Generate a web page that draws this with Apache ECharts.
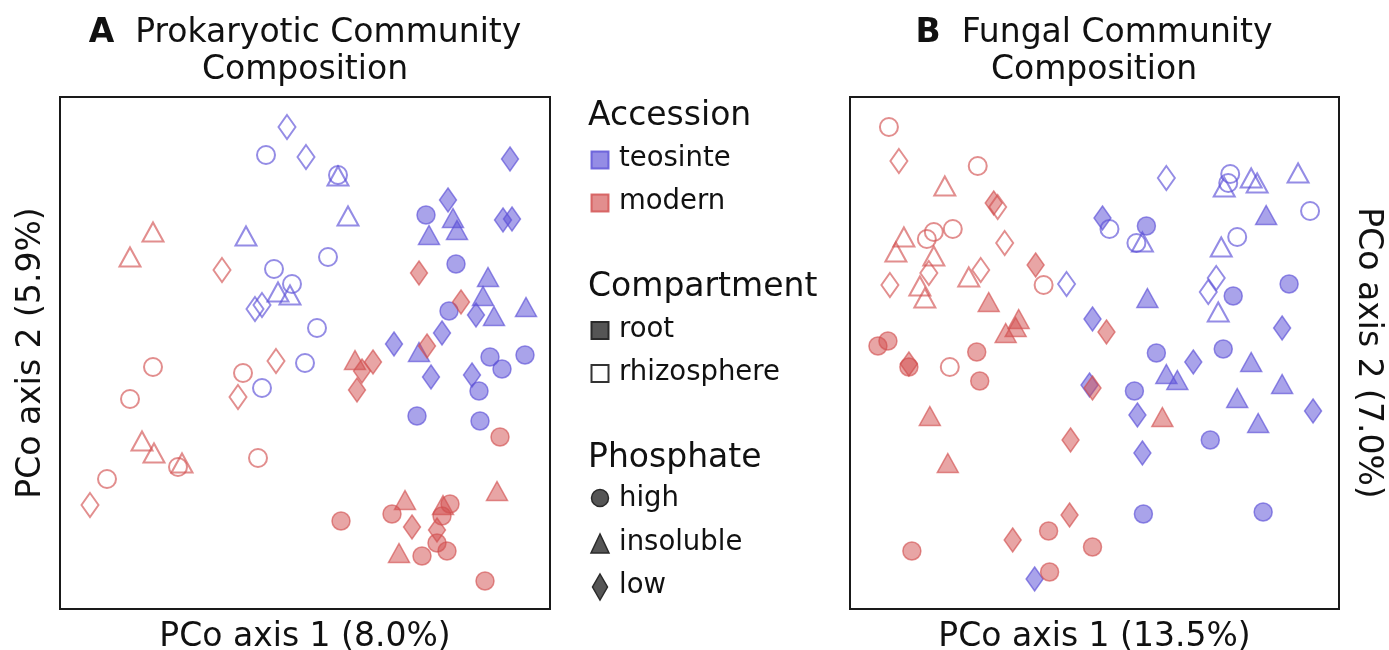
<!DOCTYPE html>
<html>
<head>
<meta charset="utf-8">
<script src="https://cdn.jsdelivr.net/npm/echarts@6/dist/echarts.min.js"></script>
<style>
html,body{margin:0;padding:0;background:#fff;}
#chart{width:1389px;height:650px;}
</style>
</head>
<body>
<div id="chart"></div>
<script>
// ---------- Panel A: Prokaryotic (arbitrary PCo units) ----------
const A_teo_rhizo_high = [[206,454],[278,434],[214,340],[232,325],[257,281],[268,352],[245,246],[202,221]];
const A_teo_rhizo_insol = [[186,373],[278,433],[288,393],[218,317],[230,314]];
const A_teo_rhizo_low = [[227,482],[246,452],[195,300],[202,304]];
const A_teo_root_high = [[366,394],[396,345],[389,298],[430,252],[442,240],[465,254],[419,218],[357,193],[420,188]];
const A_teo_root_insol = [[393,391],[369,374],[397,379],[428,332],[423,313],[434,293],[466,302],[359,257]];
const A_teo_root_low = [[450,450],[388,409],[443,389],[452,390],[416,294],[382,276],[334,265],[371,232],[412,234]];
const A_mod_rhizo_high = [[93,242],[70,210],[183,236],[118,142],[198,151],[47,130]];
const A_mod_rhizo_insol = [[93,377],[70,352],[82,168],[94,156],[122,146]];
const A_mod_rhizo_low = [[162,339],[216,248],[178,212],[30,104]];
const A_mod_root_high = [[440,172],[332,95],[281,88],[390,105],[382,93],[377,66],[387,58],[362,53],[425,28]];
const A_mod_root_insol = [[295,249],[437,118],[345,109],[383,104],[339,56]];
const A_mod_root_low = [[359,336],[401,307],[367,263],[313,247],[302,238],[297,219],[352,82],[377,79]];

// ---------- Panel B: Fungal ----------
const B_teo_rhizo_high = [[381,435],[379,426],[461,398],[260,380],[287,366],[388,372]];
const B_teo_rhizo_insol = [[375,422],[402,431],[408,426],[449,436],[293,367],[372,362],[369,297]];
const B_teo_rhizo_low = [[217,325],[317,431],[367,331],[359,317]];
const B_teo_root_high = [[297,383],[384,313],[440,325],[307,256],[374,260],[285,218],[361,169],[294,95],[414,97]];
const B_teo_root_insol = [[417,394],[298,311],[317,235],[328,229],[402,247],[433,225],[388,211],[409,186]];
const B_teo_root_low = [[253,391],[243,290],[433,281],[344,247],[240,224],[288,194],[464,198],[293,156],[185,30]];
const B_mod_rhizo_high = [[39,482],[128,443],[103,380],[84,377],[77,370],[194,324],[100,242]];
const B_mod_rhizo_insol = [[95,423],[54,372],[46,357],[84,353],[70,323],[75,311],[119,332]];
const B_mod_rhizo_low = [[49,448],[148,402],[155,366],[79,336],[40,324],[131,339]];
const B_mod_root_high = [[28,263],[38,268],[59,242],[127,257],[130,228],[62,58],[199,78],[200,37],[243,62]];
const B_mod_root_insol = [[139,307],[169,290],[166,282],[156,276],[80,193],[98,146],[313,192]];
const B_mod_root_low = [[144,406],[186,344],[59,245],[257,277],[243,221],[221,169],[220,94],[163,69]];

// ---------- Text ----------
const titleA = ['A', 'Prokaryotic Community', 'Composition'];
const titleB = ['B', 'Fungal Community', 'Composition'];
const xNameA = 'PCo axis 1 (8.0%)';
const yNameA = 'PCo axis 2 (5.9%)';
const xNameB = 'PCo axis 1 (13.5%)';
const yNameB = 'PCo axis 2 (7.0%)';
const legendAccession = ['teosinte', 'modern'];
const legendCompartment = ['root', 'rhizosphere'];
const legendPhosphate = ['high', 'insoluble', 'low'];

const FONT = '"DejaVu Sans", "Liberation Sans", sans-serif';
const COL = {
  teo: { fill: 'rgba(92,80,215,0.66)', line: 'rgba(92,80,215,0.82)' },
  mod: { fill: 'rgba(210,78,78,0.64)', line: 'rgba(210,78,78,0.80)' }
};
const SHAPE = {
  high: { symbol: 'circle', size: 18 },
  insol: { symbol: 'triangle', size: [21, 19] },
  low: { symbol: 'diamond', size: [17, 24] }
};

function mk(data, idx, acc, comp, ph) {
  const c = COL[acc];
  const filled = comp === 'root';
  return {
    type: 'scatter',
    xAxisIndex: idx, yAxisIndex: idx,
    data: data,
    symbol: SHAPE[ph].symbol,
    symbolSize: SHAPE[ph].size,
    silent: true,
    itemStyle: filled
      ? { color: c.fill, borderColor: c.line, borderWidth: 1.5 }
      : { color: 'rgba(255,255,255,0)', borderColor: c.line, borderWidth: 2 },
    emphasis: { disabled: true }
  };
}

const series = [
  mk(A_mod_rhizo_high, 0, 'mod', 'rhizo', 'high'),
  mk(A_mod_rhizo_insol, 0, 'mod', 'rhizo', 'insol'),
  mk(A_mod_rhizo_low, 0, 'mod', 'rhizo', 'low'),
  mk(A_teo_rhizo_high, 0, 'teo', 'rhizo', 'high'),
  mk(A_teo_rhizo_insol, 0, 'teo', 'rhizo', 'insol'),
  mk(A_teo_rhizo_low, 0, 'teo', 'rhizo', 'low'),
  mk(A_teo_root_high, 0, 'teo', 'root', 'high'),
  mk(A_teo_root_insol, 0, 'teo', 'root', 'insol'),
  mk(A_teo_root_low, 0, 'teo', 'root', 'low'),
  mk(A_mod_root_high, 0, 'mod', 'root', 'high'),
  mk(A_mod_root_insol, 0, 'mod', 'root', 'insol'),
  mk(A_mod_root_low, 0, 'mod', 'root', 'low'),
  mk(B_mod_rhizo_high, 1, 'mod', 'rhizo', 'high'),
  mk(B_mod_rhizo_insol, 1, 'mod', 'rhizo', 'insol'),
  mk(B_mod_rhizo_low, 1, 'mod', 'rhizo', 'low'),
  mk(B_teo_rhizo_high, 1, 'teo', 'rhizo', 'high'),
  mk(B_teo_rhizo_insol, 1, 'teo', 'rhizo', 'insol'),
  mk(B_teo_rhizo_low, 1, 'teo', 'rhizo', 'low'),
  mk(B_teo_root_high, 1, 'teo', 'root', 'high'),
  mk(B_teo_root_insol, 1, 'teo', 'root', 'insol'),
  mk(B_teo_root_low, 1, 'teo', 'root', 'low'),
  mk(B_mod_root_high, 1, 'mod', 'root', 'high'),
  mk(B_mod_root_insol, 1, 'mod', 'root', 'insol'),
  mk(B_mod_root_low, 1, 'mod', 'root', 'low')
];

function xAx(idx, name) {
  return {
    type: 'value', gridIndex: idx, min: 0, max: 490,
    axisLine: { show: false }, axisTick: { show: false }, axisLabel: { show: false }, splitLine: { show: false },
    name: name, nameLocation: 'middle', nameGap: 12,
    nameTextStyle: { fontFamily: FONT, fontSize: 33, color: '#111', verticalAlign: 'top' }
  };
}
function yAx(idx, name, pos) {
  return {
    type: 'value', gridIndex: idx, min: 0, max: 512, position: pos,
    axisLine: { show: false }, axisTick: { show: false }, axisLabel: { show: false }, splitLine: { show: false },
    name: name, nameLocation: 'middle', nameGap: 12, nameRotate: pos === 'left' ? 90 : -90,
    nameTextStyle: { fontFamily: FONT, fontSize: 33, color: '#111' }
  };
}

const graphics = [];
function title(cx, t) {
  graphics.push({
    type: 'text', silent: true,
    style: {
      x: cx, y: 15, text: '{b|' + t[0] + '}  ' + t[1] + '\n' + t[2],
      align: 'center', verticalAlign: 'top',
      font: '33px ' + FONT, fill: '#111', lineHeight: 37,
      rich: { b: { fontWeight: 'bold', fontSize: 33, fontFamily: FONT, lineHeight: 37, fill: '#111' } }
    }
  });
}
title(305, titleA);
title(1094, titleB);

const LX = 600, TX = 619;
function head(y, txt) {
  graphics.push({ type: 'text', silent: true, style: { x: 588, y: y, text: txt, font: '33px ' + FONT, fill: '#111', verticalAlign: 'middle' } });
}
function item(y, txt) {
  graphics.push({ type: 'text', silent: true, style: { x: TX, y: y, text: txt, font: '27.5px ' + FONT, fill: '#111', verticalAlign: 'middle' } });
}
function sq(y, fill, stroke) {
  graphics.push({ type: 'rect', silent: true, shape: { x: LX - 8.5, y: y - 8.5, width: 17, height: 17 }, style: { fill: fill, stroke: stroke, lineWidth: 2 } });
}
head(116, 'Accession');
sq(160, COL.teo.fill, COL.teo.line); item(159, legendAccession[0]);
sq(203, COL.mod.fill, COL.mod.line); item(202, legendAccession[1]);
head(287, 'Compartment');
sq(330.5, '#555', '#2a2a2a'); item(330, legendCompartment[0]);
sq(373.5, '#fff', '#333'); item(373, legendCompartment[1]);
head(458, 'Phosphate');
graphics.push({ type: 'circle', silent: true, shape: { cx: LX, cy: 498, r: 8.5 }, style: { fill: '#555', stroke: '#2a2a2a', lineWidth: 1.5 } });
item(499, legendPhosphate[0]);
graphics.push({ type: 'polygon', silent: true, shape: { points: [[LX, 534], [LX - 9, 553], [LX + 9, 553]] }, style: { fill: '#555', stroke: '#2a2a2a', lineWidth: 1.5 } });
item(543, legendPhosphate[1]);
graphics.push({ type: 'polygon', silent: true, shape: { points: [[LX, 574], [LX + 7.5, 587], [LX, 600], [LX - 7.5, 587]] }, style: { fill: '#555', stroke: '#2a2a2a', lineWidth: 1.5 } });
item(586, legendPhosphate[2]);

const chart = echarts.init(document.getElementById('chart'), null, { renderer: 'canvas' });
const gridBase = { top: 97, height: 512, show: true, borderColor: '#1a1a1a', borderWidth: 2, backgroundColor: 'rgba(0,0,0,0)', containLabel: false, outerBoundsMode: 'none' };
chart.setOption({
  animation: false,
  backgroundColor: '#fff',
  grid: [
    Object.assign({ left: 60, width: 490 }, gridBase),
    Object.assign({ left: 850, width: 489 }, gridBase)
  ],
  xAxis: [xAx(0, xNameA), xAx(1, xNameB)],
  yAxis: [yAx(0, yNameA, 'left'), yAx(1, yNameB, 'right')],
  series: series,
  graphic: graphics
});
</script>
</body>
</html>
